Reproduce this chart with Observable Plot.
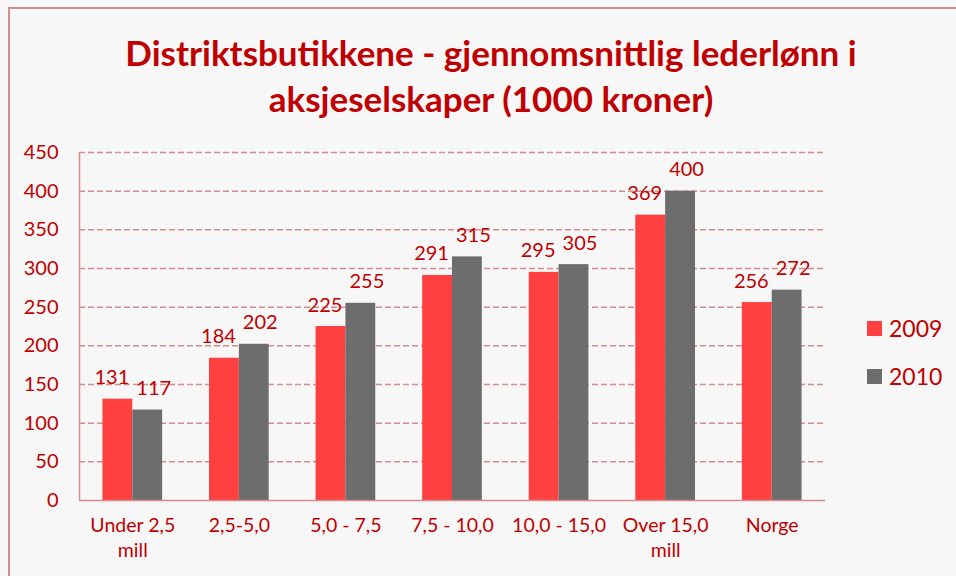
<!DOCTYPE html>
<html>
<head>
<meta charset="utf-8">
<script src="https://cdn.jsdelivr.net/npm/d3@7"></script>
<script src="https://cdn.jsdelivr.net/npm/@observablehq/plot@0.6"></script>
<style>
  html, body { margin: 0; padding: 0; background: #f7f7f7; overflow: hidden; width: 956px; height: 576px; }
  #frame { position: absolute; left: 8px; top: 7px; width: 1000px; height: 700px; border: 2px solid #d48c8c; box-sizing: border-box; }
  #title { position: absolute; left: 8px; width: 966px; top: 29px; text-align: center; font-family: Lato, sans-serif; font-weight: bold; font-size: 35px; line-height: 46px; color: #c00000; }
  #chart { position: absolute; left: 0; top: 130px; }
  #legend { position: absolute; left: 867px; top: 304px; font-family: Lato, sans-serif; font-size: 23px; color: #c00000; }
  #legend .item { display: flex; align-items: center; height: 48px; }
  #legend .sw { width: 15px; height: 15px; margin-right: 7px; }
</style>
</head>
<body>
<div id="frame"></div>
<div id="title">Distriktsbutikkene - gjennomsnittlig lederlønn i<br>aksjeselskaper (1000 kroner)</div>
<div id="chart"></div>
<div id="legend"></div>
<script>
const categories = ["Under 2,5\nmill", "2,5-5,0", "5,0 - 7,5", "7,5 - 10,0", "10,0 - 15,0", "Over 15,0\nmill", "Norge"];
const years = ["2009", "2010"];
const values2009 = [131, 184, 225, 291, 295, 369, 256];
const values2010 = [117, 202, 255, 315, 305, 400, 272];
const yTicks = [0, 50, 100, 150, 200, 250, 300, 350, 400, 450];
const colors = ["#ff4040", "#6d6d6d"];

// band layout within each category slot (fractions of the slot)
const barStart = 0.22, barWidth = 0.28;

const data = [];
categories.forEach((c, i) => {
  [values2009, values2010].forEach((vals, k) => {
    data.push({
      cat: c, idx: i, year: years[k], k, value: vals[i],
      x1: i + barStart + k * barWidth,
      x2: i + barStart + (k + 1) * barWidth
    });
  });
});

const textColor = "#c00000";
const gridColor = "#d48c8c";

const chart = Plot.plot({
  width: 956,
  height: 446,
  marginTop: 22,
  marginBottom: 76,
  marginLeft: 79,
  marginRight: 131,
  style: { background: "transparent", fontFamily: "Lato, sans-serif", fontSize: "20px", color: textColor },
  x: { domain: [0, categories.length], axis: null },
  y: { domain: [0, 450], axis: null },
  color: { domain: years, range: colors },
  marks: [
    Plot.gridY(yTicks.filter(d => d > 0), { stroke: gridColor, strokeOpacity: 1, strokeWidth: 1.5, strokeDasharray: "6,3" }),
    Plot.rectY(data, { x1: "x1", x2: "x2", y1: 0, y2: "value", fill: "year", insetLeft: 0, insetRight: 0 }),
    Plot.ruleY([0], { stroke: gridColor, strokeWidth: 1.5 }),
    Plot.ruleX([0], { stroke: gridColor, strokeWidth: 1.5 }),
    Plot.axisY(yTicks, { tickSize: 0, tickPadding: 21, fill: textColor, fontSize: 20, label: null }),
    Plot.axisX(categories.map((c, i) => i + 0.5), {
      tickSize: 0, tickPadding: 14, fill: textColor, fontSize: 19.5, lineHeight: 1.28, label: null,
      tickFormat: (d) => categories[Math.floor(d)]
    }),
    Plot.text(data.filter(d => d.k === 0), {
      x: d => (d.x1 + d.x2) / 2, y: "value", text: d => String(d.value),
      lineAnchor: "bottom", dy: -15, dx: -6, fill: textColor, fontSize: 20
    }),
    Plot.text(data.filter(d => d.k === 1), {
      x: d => (d.x1 + d.x2) / 2, y: "value", text: d => String(d.value),
      lineAnchor: "bottom", dy: -15, dx: 6, fill: textColor, fontSize: 20
    })
  ]
});
document.getElementById("chart").appendChild(chart);

const legend = document.getElementById("legend");
years.forEach((y, k) => {
  const item = document.createElement("div");
  item.className = "item";
  const sw = document.createElement("div");
  sw.className = "sw";
  sw.style.background = colors[k];
  const t = document.createElement("span");
  t.textContent = y;
  item.appendChild(sw);
  item.appendChild(t);
  legend.appendChild(item);
});
</script>
</body>
</html>
